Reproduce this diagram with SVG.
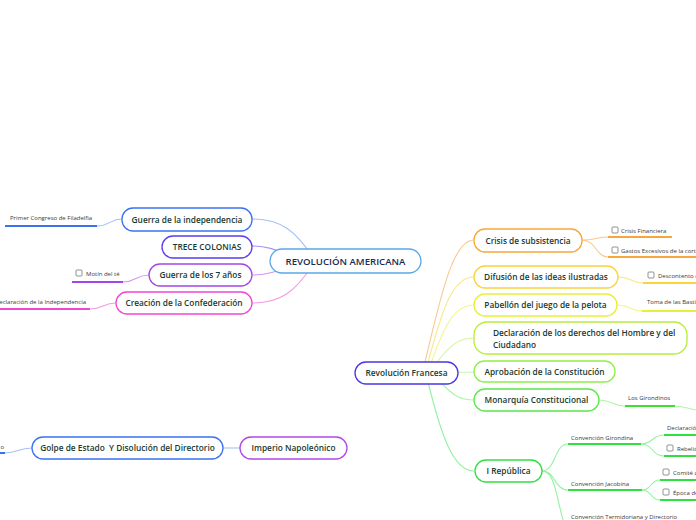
<svg xmlns="http://www.w3.org/2000/svg" width="696" height="520" viewBox="0 0 696 520">
<style>
text{font-family:"Open Sans","Noto Sans","DejaVu Sans",sans-serif;}
.nt{font-size:8.3px;fill:#173a30;text-anchor:middle;font-weight:600;}
.ntl{font-size:8.3px;fill:#173a30;text-anchor:start;font-weight:600;}
.lt{font-size:6px;fill:#3a3a3a;}
.box{fill:#fff;stroke-width:1.3;}
.c{fill:none;stroke-width:1.1;}
.ul{fill:none;stroke-width:2;}
.cb{fill:#fff;stroke:#666;stroke-width:0.7;}
</style>
<rect width="696" height="520" fill="#fff"/>
<g id="connectors">
<path class="c" stroke="#a6c0f6" d="M252 219 C282 219,296 232,312 256"/>
<path class="c" stroke="#a394f6" d="M252 246 C268 246,276 250,290 256"/>
<path class="c" stroke="#d494f2" d="M252 275 C268 275,278 271,292 265"/>
<path class="c" stroke="#f59ae4" d="M252 303 C282 303,296 290,312 266"/>
<path class="c" stroke="#a6c0f6" d="M97 226 C110 226,110 219,122 219"/>
<path class="c" stroke="#d494f2" d="M123 282 C136 282,136 275,149 275"/>
<path class="c" stroke="#f59ae4" d="M90 309 C103 309,103 303,116 303"/>
<path class="c" stroke="#f8c890" stroke-width="1.3" d="M424 366 C440 300,452 240,474 240"/>
<path class="c" stroke="#fbe68e" stroke-width="1.3" d="M427 366 C442 310,452 277,474 277"/>
<path class="c" stroke="#f2f590" stroke-width="1.3" d="M430 366 C446 320,456 305,474 305"/>
<path class="c" stroke="#d8f59a" stroke-width="1.3" d="M434 366 C450 345,458 338,474 338"/>
<path class="c" stroke="#c6f5b0" stroke-width="3" d="M456 372.5 L474 372"/>
<path class="c" stroke="#aef5ac" stroke-width="1.3" d="M440 382 C454 396,460 400,474 400"/>
<path class="c" stroke="#96f0a2" stroke-width="1.3" d="M428 382 C440 430,452 471,474 471"/>
<path class="c" stroke="#f8c890" d="M582 240 C596 240,596 237,608 237"/>
<path class="c" stroke="#f8c890" d="M582 240 C596 240,596 257,608 257"/>
<path class="c" stroke="#fbe68e" d="M618 277 C632 277,630 283,643 283"/>
<path class="c" stroke="#f2f590" d="M617 305 C631 305,629 311,642 311"/>
<path class="c" stroke="#aef5ac" d="M599 400 C612 400,612 406,625 406"/>
<path class="c" stroke="#aef5ac" d="M675 406 C684 406,688 409,696 410"/>
<path class="c" stroke="#96f0a2" d="M542 471 C556 471,554 444,568 444"/>
<path class="c" stroke="#96f0a2" d="M542 471 C556 471,554 490,568 490"/>
<path class="c" stroke="#96f0a2" d="M542 471 C556 471,556 500,566 530"/>
<path class="c" stroke="#96f0a2" d="M641 444 C653 444,652 435,664 435"/>
<path class="c" stroke="#96f0a2" d="M641 444 C653 444,652 456,664 456"/>
<path class="c" stroke="#96f0a2" d="M642 490 C652 490,650 480,660 480"/>
<path class="c" stroke="#96f0a2" d="M642 490 C652 490,650 500,660 500"/>
<path class="c" stroke="#a6c0f6" d="M5 453 C18 453,18 448,32 448"/>
<path class="c" stroke="#a6c0f6" d="M223 448 L240 448"/>
</g>
<g id="n-revam"><rect class="box" stroke="#5aa8e8" x="270" y="249" width="151" height="24" rx="12"/><text x="345.5" y="264.5" text-anchor="middle" font-size="9.6" font-weight="600" fill="#1c2b52">REVOLUCIÓN AMERICANA</text></g>
<g id="n-guerraind"><rect class="box" stroke="#3b72f0" x="122" y="208" width="130" height="23" rx="11"/><text class="nt" x="187" y="222.5">Guerra de la independencia</text></g>
<g id="n-trece"><rect class="box" stroke="#5a3df0" x="162" y="236" width="90" height="22" rx="11"/><text class="nt" x="207" y="250">TRECE COLONIAS</text></g>
<g id="n-guerra7"><rect class="box" stroke="#a445e8" x="149" y="264" width="103" height="22" rx="11"/><text class="nt" x="200.5" y="278">Guerra de los 7 años</text></g>
<g id="n-confed"><rect class="box" stroke="#f046d6" x="116" y="292" width="136" height="22" rx="11"/><text class="nt" x="184" y="306">Creación de la Confederación</text></g>
<g id="l-congreso"><text class="lt" x="10" y="220">Primer Congreso de Filadelfia</text><line class="ul" stroke="#3b72f0" x1="5" y1="226" x2="97" y2="226"/></g>
<g id="l-motin"><rect class="cb" x="76" y="270" width="6" height="6" rx="1"/><text class="lt" x="86" y="276">Motín del té</text><line class="ul" stroke="#a445e8" x1="72" y1="282" x2="123" y2="282"/></g>
<g id="l-declind"><text class="lt" x="86" y="304" text-anchor="end">Declaración de la Independencia</text><line class="ul" stroke="#f046d6" x1="0" y1="309" x2="90" y2="309"/></g>
<g id="n-revfr"><rect class="box" stroke="#4a35e8" x="355" y="362" width="103" height="22" rx="11"/><text class="nt" x="406.5" y="376">Revolución Francesa</text></g>
<g id="n-crisis"><rect class="box" stroke="#f7a73a" x="474" y="229" width="108" height="23" rx="11"/><text class="nt" x="528" y="243.5">Crisis de subsistencia</text></g>
<g id="n-difusion"><rect class="box" stroke="#f9d43a" x="474" y="266" width="144" height="22" rx="11"/><text class="nt" x="546" y="280">Difusión de las ideas ilustradas</text></g>
<g id="n-pabellon"><rect class="box" stroke="#e9ef36" x="474" y="294" width="143" height="22" rx="11"/><text class="nt" x="545.5" y="308">Pabellón del juego de la pelota</text></g>
<g id="n-declder"><rect class="box" stroke="#b6ee3a" x="474" y="322" width="213" height="32" rx="13"/><text class="ntl" x="493" y="336">Declaración de los derechos del Hombre y del</text><text class="ntl" x="493" y="347.5">Ciudadano</text></g>
<g id="n-aprob"><rect class="box" stroke="#8ef04a" x="474" y="361" width="141" height="21" rx="10.5"/><text class="nt" x="544.5" y="374.5">Aprobación de la Constitución</text></g>
<g id="n-monarq"><rect class="box" stroke="#5ae84a" x="474" y="389" width="125" height="22" rx="11"/><text class="nt" x="536.5" y="403">Monarquía Constitucional</text></g>
<g id="n-irep"><rect class="box" stroke="#30e040" x="475" y="460" width="67" height="22" rx="11"/><text class="nt" x="508.5" y="474">I República</text></g>
<g id="l-crisisfin"><rect class="cb" x="612" y="227" width="6" height="6" rx="1"/><text class="lt" x="621" y="232.5">Crisis Financiera</text><line class="ul" stroke="#f7a73a" x1="608" y1="237" x2="672" y2="237"/></g>
<g id="l-gastos"><rect class="cb" x="612" y="247" width="6" height="6" rx="1"/><text class="lt" x="621" y="252.5">Gastos Excesivos de la corte</text><line class="ul" stroke="#f7a73a" x1="608" y1="257" x2="696" y2="257"/></g>
<g id="l-descont"><rect class="cb" x="648" y="272" width="6" height="6" rx="1"/><text class="lt" x="658" y="277.5">Descontento de</text><line class="ul" stroke="#f9d43a" x1="643" y1="283" x2="696" y2="283"/></g>
<g id="l-toma"><text class="lt" x="647" y="304">Toma de las Bastilla</text><line class="ul" stroke="#e9ef36" x1="642" y1="311" x2="696" y2="311"/></g>
<g id="l-giron"><text class="lt" x="628" y="400">Los Girondinos</text><line class="ul" stroke="#3ee030" x1="625" y1="406" x2="675" y2="406"/></g>
<g id="l-convgir"><text class="lt" x="571" y="439.5">Convención Girondina</text><line class="ul" stroke="#30e040" x1="568" y1="444" x2="641" y2="444"/></g>
<g id="l-convjac"><text class="lt" x="571" y="485.5">Convención Jacobina</text><line class="ul" stroke="#30e040" x1="568" y1="490" x2="642" y2="490"/></g>
<g id="l-convterm"><text class="lt" x="571" y="518.5">Convención Termidoriana y Directorio</text></g>
<g id="l-declar"><text class="lt" x="667" y="430">Declaración</text><line class="ul" stroke="#30e040" x1="664" y1="435" x2="696" y2="435"/></g>
<g id="l-rebel"><rect class="cb" x="667" y="445" width="6" height="6" rx="1"/><text class="lt" x="677" y="450.5">Rebelión</text><line class="ul" stroke="#30e040" x1="664" y1="456" x2="696" y2="456"/></g>
<g id="l-comite"><rect class="cb" x="663" y="469" width="6" height="6" rx="1"/><text class="lt" x="673" y="474.5">Comité de</text><line class="ul" stroke="#30e040" x1="660" y1="480" x2="696" y2="480"/></g>
<g id="l-epoca"><rect class="cb" x="663" y="489" width="6" height="6" rx="1"/><text class="lt" x="673" y="494.5">Época de</text><line class="ul" stroke="#30e040" x1="660" y1="500" x2="696" y2="500"/></g>
<g id="n-golpe"><rect class="box" stroke="#3a72f0" x="32" y="437" width="191" height="22" rx="11"/><text class="nt" x="127.5" y="451" xml:space="preserve">Golpe de Estado  Y Disolución del Directorio</text></g>
<g id="n-imperio"><rect class="box" stroke="#b048e8" x="240" y="437" width="107" height="22" rx="11"/><text class="nt" x="293.5" y="451">Imperio Napoleónico</text></g>
<g id="l-o"><text class="lt" x="4" y="449" text-anchor="end">o</text><line class="ul" stroke="#3a72f0" x1="0" y1="453" x2="5" y2="453"/></g>
</svg>
